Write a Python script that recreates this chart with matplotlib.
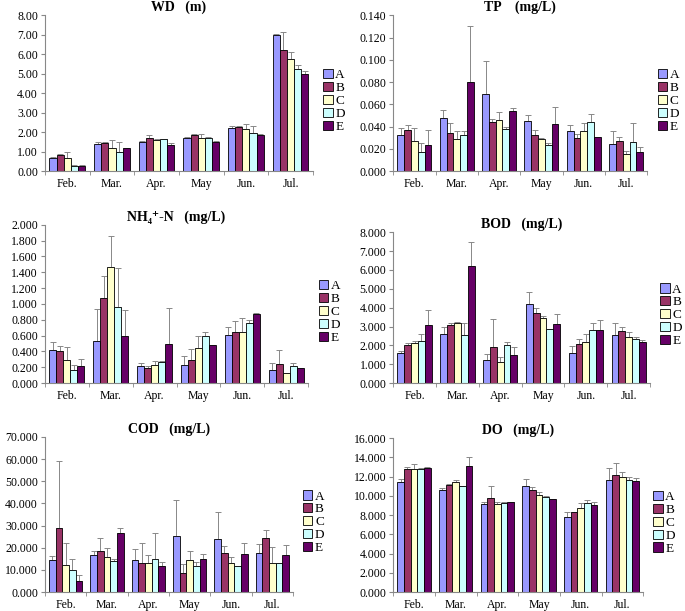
import matplotlib
matplotlib.use("Agg")
import matplotlib.pyplot as plt
import numpy as np
from matplotlib.ticker import FormatStrFormatter, FixedLocator

plt.rcParams['font.family'] = ['Liberation Serif', 'DejaVu Serif']

months = ["Feb.", "Mar.", "Apr.", "May", "Jun.", "Jul."]
sites = ["A", "B", "C", "D", "E"]
colors = ["#9999ff", "#993366", "#ffffcc", "#ccffff", "#660066"]

# rows = sites A..E, columns = months; *_top = upper end of the error bar
wd_mean = [[0.68, 1.37, 1.47, 1.70, 2.22, 6.97],
           [0.82, 1.42, 1.72, 1.83, 2.28, 6.20],
           [0.68, 1.20, 1.62, 1.70, 2.15, 5.77],
           [0.28, 1.00, 1.63, 1.72, 1.97, 5.23],
           [0.28, 1.17, 1.33, 1.50, 1.85, 5.00]]
wd_top = [[0.73, 1.50, 1.54, 1.75, 2.29, 7.04],
          [0.87, 1.47, 1.84, 1.88, 2.33, 7.15],
          [0.98, 1.58, 1.67, 1.92, 2.40, 6.10],
          [0.30, 1.50, 1.66, 1.77, 2.32, 5.43],
          [0.30, 1.19, 1.45, 1.53, 1.88, 5.12]]

tp_mean = [[0.032, 0.048, 0.069, 0.045, 0.036, 0.024],
           [0.037, 0.034, 0.044, 0.032, 0.030, 0.027],
           [0.027, 0.029, 0.046, 0.029, 0.036, 0.015],
           [0.017, 0.032, 0.038, 0.023, 0.044, 0.026],
           [0.023, 0.080, 0.054, 0.042, 0.031, 0.017]]
tp_top = [[0.039, 0.055, 0.099, 0.050, 0.041, 0.036],
          [0.041, 0.043, 0.047, 0.037, 0.033, 0.031],
          [0.039, 0.036, 0.053, 0.030, 0.043, 0.018],
          [0.025, 0.036, 0.040, 0.025, 0.051, 0.043],
          [0.037, 0.130, 0.057, 0.058, 0.031, 0.022]]

nh_mean = [[0.42, 0.53, 0.22, 0.23, 0.61, 0.17],
           [0.40, 1.07, 0.19, 0.29, 0.65, 0.24],
           [0.29, 1.47, 0.23, 0.44, 0.65, 0.13],
           [0.17, 0.96, 0.27, 0.60, 0.76, 0.21],
           [0.21, 0.60, 0.50, 0.48, 0.87, 0.19]]
nh_top = [[0.52, 0.94, 0.25, 0.34, 0.71, 0.25],
          [0.47, 1.35, 0.21, 0.43, 0.79, 0.42],
          [0.46, 1.86, 0.28, 0.59, 0.82, 0.13],
          [0.23, 1.46, 0.28, 0.65, 0.80, 0.25],
          [0.30, 0.92, 0.95, 0.48, 0.89, 0.19]]

bod_mean = [[1.60, 2.60, 1.22, 4.17, 1.57, 2.55],
            [2.00, 3.10, 1.90, 3.70, 2.07, 2.78],
            [2.10, 3.18, 1.12, 3.47, 2.20, 2.42],
            [2.25, 2.57, 2.00, 2.85, 2.83, 2.32],
            [3.07, 6.20, 1.48, 3.15, 2.82, 2.18]]
bod_top = [[1.70, 2.95, 1.55, 4.85, 1.95, 3.18],
           [2.15, 3.20, 3.38, 3.98, 2.35, 2.97],
           [2.25, 3.22, 1.40, 3.57, 2.60, 2.70],
           [2.60, 3.20, 2.20, 2.85, 3.17, 2.42],
           [3.85, 7.50, 1.93, 3.65, 3.32, 2.28]]

cod_mean = [[14.3, 16.9, 14.3, 25.4, 23.9, 17.6],
            [29.0, 18.4, 13.1, 8.8, 17.6, 24.2],
            [12.0, 15.9, 13.1, 14.3, 13.1, 13.1],
            [10.0, 14.2, 14.9, 11.6, 11.6, 13.1],
            [5.0, 26.7, 11.6, 14.8, 17.3, 16.6]]
cod_top = [[16.2, 18.3, 19.5, 41.3, 35.9, 21.6],
           [59.0, 24.2, 22.2, 12.5, 20.6, 28.0],
           [22.3, 19.9, 16.6, 18.3, 15.9, 20.1],
           [14.7, 14.9, 26.7, 13.5, 11.6, 13.1],
           [7.5, 29.0, 13.5, 17.0, 22.3, 21.3]]

do_mean = [[11.4, 10.6, 9.2, 11.0, 7.8, 11.6],
           [12.8, 11.1, 9.8, 10.6, 8.3, 12.2],
           [12.8, 11.4, 9.1, 10.1, 8.7, 12.0],
           [12.8, 11.0, 9.3, 9.9, 9.3, 11.6],
           [12.9, 13.1, 9.4, 9.7, 9.0, 11.5]]
do_top = [[11.7, 10.8, 9.4, 11.7, 8.3, 12.9],
          [13.0, 11.2, 11.0, 10.9, 8.3, 13.4],
          [13.3, 11.6, 9.4, 10.4, 9.3, 12.5],
          [12.9, 11.0, 9.4, 10.0, 9.6, 12.0],
          [13.0, 14.0, 9.4, 9.7, 9.4, 11.9]]

panels = [
    ("WD   (m)", wd_mean, wd_top, 8, 1, "%.2f", [0.0657, 0.720, 0.391, 0.255]),
    ("TP    (mg/L)", tp_mean, tp_top, 0.14, 0.02, "%.3f", [0.574, 0.720, 0.371, 0.255]),
    ("NH₄⁺-N   (mg/L)", nh_mean, nh_top, 2, 0.2, "%.3f", [0.0657, 0.373, 0.384, 0.259]),
    ("BOD   (mg/L)", bod_mean, bod_top, 8, 1, "%.3f", [0.574, 0.373, 0.375, 0.247]),
    ("COD   (mg/L)", cod_mean, cod_top, 70, 10, "%.3f", [0.0657, 0.031, 0.362, 0.254]),
    ("DO   (mg/L)", do_mean, do_top, 16, 2, "%.3f", [0.574, 0.031, 0.365, 0.252]),
]

fig = plt.figure(figsize=(6.85, 6.11), dpi=100)
x = np.arange(len(months))
w = 0.16
for title, mean, top, ymax, step, fmt, pos in panels:
    ax = fig.add_axes(pos)
    mean = np.array(mean)
    err = np.array(top) - mean
    for i in range(len(sites)):
        xs = x + (i - 2) * w
        ax.bar(xs, mean[i], w, color=colors[i], edgecolor="black",
               linewidth=0.6, label=sites[i], zorder=2)
        ax.errorbar(xs, mean[i], yerr=[np.zeros(len(months)), err[i]],
                    fmt="none", ecolor="#888888", elinewidth=0.7,
                    capsize=2, capthick=0.7, zorder=1)
    ax.set_xlim(-0.5, len(months) - 0.5)
    ax.set_ylim(0, ymax)
    ax.set_yticks(np.arange(0, ymax + step / 2, step))
    ax.yaxis.set_major_formatter(FormatStrFormatter(fmt))
    ax.set_xticks(x)
    ax.set_xticklabels(months)
    ax.xaxis.set_minor_locator(FixedLocator(np.arange(-0.5, len(months), 1)))
    ax.tick_params(axis="x", which="major", length=0, labelsize=8.5, pad=5)
    ax.tick_params(axis="x", which="minor", length=3, color="#888888")
    ax.tick_params(axis="y", length=3, color="#888888", labelsize=8.5, pad=2)
    for s in ["top", "right"]:
        ax.spines[s].set_visible(False)
    for s in ["left", "bottom"]:
        ax.spines[s].set_color("#888888")
        ax.spines[s].set_linewidth(0.8)
    ax.set_title(title, fontsize=10, fontweight="bold", pad=3)
    ax.legend(loc="center left", bbox_to_anchor=(1.02, 0.45), frameon=False,
              fontsize=9.5, handlelength=0.7, handleheight=0.7,
              handletextpad=0.2, labelspacing=0.05, borderaxespad=0)

plt.savefig("out.png", dpi=100)
